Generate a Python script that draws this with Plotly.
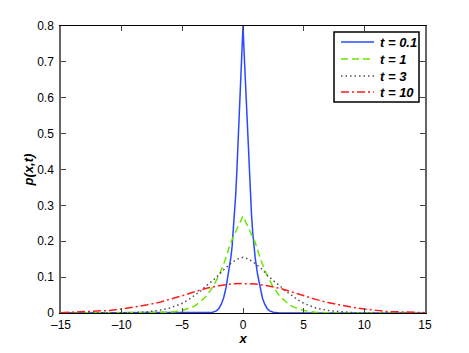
import plotly.graph_objects as go

# ---- data ----
x_t01 = [-15, -4, -3, -2.5, -2.2, -2.0, -1.8, -1.6, -1.4, -1.2, -1.0, -0.9, -0.8, -0.7, -0.6, -0.5,
         -0.4, -0.3, -0.2, -0.1, 0, 0.1, 0.2, 0.3, 0.4, 0.5, 0.6, 0.7, 0.8, 0.9, 1.0, 1.2, 1.4, 1.6,
         1.8, 2.0, 2.2, 2.5, 3, 4, 15]
p_t01 = [0, 0, 0.0003, 0.002, 0.006, 0.012, 0.024, 0.042, 0.07, 0.108, 0.155, 0.185, 0.225, 0.275, 0.33, 0.40,
         0.48, 0.56, 0.64, 0.72, 0.80, 0.72, 0.64, 0.56, 0.48, 0.40, 0.33, 0.275, 0.225, 0.185, 0.155, 0.108, 0.07, 0.042,
         0.024, 0.012, 0.006, 0.002, 0.0003, 0, 0]

x_t1 = [-15, -8, -7, -6, -5, -4, -3.5, -3, -2.5, -2, -1.5, -1, -0.5, -0.25, 0,
        0.25, 0.5, 1, 1.5, 2, 2.5, 3, 3.5, 4, 5, 6, 7, 8, 15]
p_t1 = [0, 0, 0.0005, 0.002, 0.007, 0.019, 0.032, 0.048, 0.072, 0.103, 0.145, 0.197, 0.234, 0.252, 0.27,
        0.252, 0.234, 0.197, 0.145, 0.103, 0.072, 0.048, 0.032, 0.019, 0.007, 0.002, 0.0005, 0, 0]

x_t3 = [-15, -10, -9, -8, -7, -6, -5, -4.5, -4, -3.5, -3, -2.5, -2, -1.5, -1, -0.5, 0,
        0.5, 1, 1.5, 2, 2.5, 3, 3.5, 4, 4.5, 5, 6, 7, 8, 9, 10, 15]
p_t3 = [0, 0, 0.001, 0.003, 0.007, 0.014, 0.027, 0.037, 0.05, 0.061, 0.077, 0.09, 0.106, 0.124, 0.138, 0.150, 0.155,
        0.150, 0.138, 0.124, 0.106, 0.09, 0.077, 0.061, 0.05, 0.037, 0.027, 0.014, 0.007, 0.003, 0.001, 0, 0]

x_t10 = [-15, -14, -13, -12, -11, -10, -9, -8, -7, -6, -5, -4, -3, -2, -1, 0,
         1, 2, 3, 4, 5, 6, 7, 8, 9, 10, 11, 12, 13, 14, 15]
p_t10 = [0.001, 0.002, 0.003, 0.004, 0.007, 0.011, 0.016, 0.022, 0.029, 0.038, 0.048, 0.059, 0.069, 0.076, 0.081, 0.082,
         0.081, 0.076, 0.069, 0.059, 0.048, 0.038, 0.029, 0.022, 0.016, 0.011, 0.007, 0.004, 0.003, 0.002, 0.001]

series_names = ["t = 0.1", "t = 1", "t = 3", "t = 10"]
x_ticks = [-15, -10, -5, 0, 5, 10, 15]
y_ticks = [0, 0.1, 0.2, 0.3, 0.4, 0.5, 0.6, 0.7, 0.8]

FONT = "Liberation Sans, Arial, sans-serif"

W, H = 469, 353
ML, MR, MT, MB = 61, 44, 26, 40
PW, PH = W - ML - MR, H - MT - MB


def px(xp):
    return (xp - ML) / PW


def py(yp):
    return (H - MB - yp) / PH


fig = go.Figure()
styles = [
    dict(color="#2a48ff", width=1.5, dash="solid"),
    dict(color="#66e600", width=1.5, dash="7px,4px"),
    dict(color="#505050", width=1.5, dash="1.5px,3px"),
    dict(color="#ff1a1a", width=1.5, dash="8px,3px,2px,3px"),
]
for xs, ys, name, st in zip([x_t01, x_t1, x_t3, x_t10], [p_t01, p_t1, p_t3, p_t10], series_names, styles):
    fig.add_trace(go.Scatter(x=xs, y=ys, mode="lines", name=name, line=st, showlegend=False))

# manual legend box (to match the compact MATLAB legend)
shapes = [dict(type="rect", xref="paper", yref="paper",
               x0=px(334), x1=px(419), y0=py(102), y1=py(32),
               line=dict(color="black", width=1.5), fillcolor="white", layer="above")]
annotations = []
row_y = [42, 59, 76, 92]
for name, st, ry in zip(series_names, styles, row_y):
    shapes.append(dict(type="line", xref="paper", yref="paper",
                       x0=px(341), x1=px(374), y0=py(ry), y1=py(ry),
                       line=dict(color=st["color"], width=st["width"], dash=st["dash"]), layer="above"))
    annotations.append(dict(xref="paper", yref="paper", x=px(378), y=py(ry), xanchor="left", yanchor="middle",
                            text=f"<b><i>{name}</i></b>", showarrow=False,
                            font=dict(family=FONT, size=13, color="black")))

fig.update_layout(
    width=W, height=H,
    margin=dict(l=ML, r=MR, t=MT, b=MB),
    paper_bgcolor="white", plot_bgcolor="white",
    font=dict(family=FONT, size=12, color="black"),
    showlegend=False,
    shapes=shapes, annotations=annotations,
)
fig.update_xaxes(
    range=[-15, 15], tickvals=x_ticks, ticktext=[str(v).replace("-", "\u2013") for v in x_ticks],
    ticks="inside", ticklen=5, tickcolor="#444", mirror="ticks", automargin=False,
    showline=True, linecolor="black", linewidth=1.2, showgrid=False, zeroline=False,
    title=dict(text="<b><i>x</i></b>", font=dict(family=FONT, size=13), standoff=0),
    tickfont=dict(family=FONT, size=12), ticklabelstandoff=0,
)
fig.update_yaxes(
    range=[0, 0.8], tickvals=y_ticks, ticktext=["0", "0.1", "0.2", "0.3", "0.4", "0.5", "0.6", "0.7", "0.8"],
    ticks="inside", ticklen=5, tickcolor="#444", mirror="ticks", automargin=False,
    showline=True, linecolor="#666", linewidth=1.5, showgrid=False, zeroline=False,
    title=dict(text="<b><i>p(x,t)</i></b>", font=dict(family=FONT, size=13), standoff=1),
    tickfont=dict(family=FONT, size=12), ticklabelstandoff=3,
)
fig.write_html("out.html", config={"displayModeBar": False},
               post_script="document.body.style.margin='0';document.body.style.overflow='hidden';")
